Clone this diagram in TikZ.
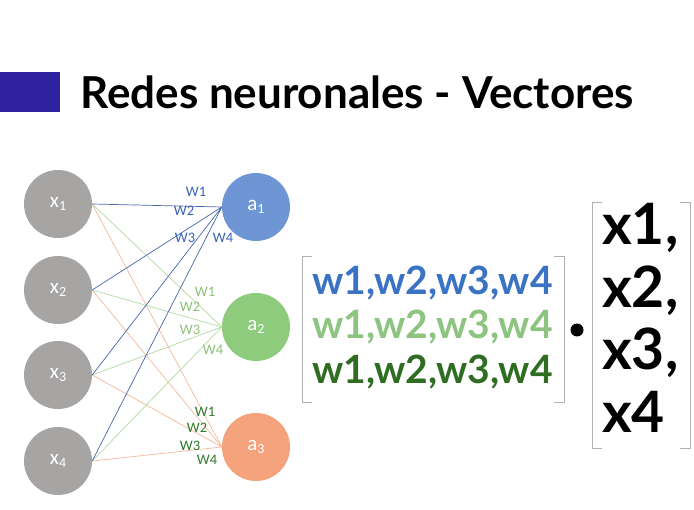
\documentclass[tikz,border=0pt]{standalone}
\usepackage{fontspec}
\setmainfont{Carlito}
\newfontfamily\latobold{Lato Bold}
\definecolor{titleblue}{HTML}{2E22A0}
\definecolor{ingray}{HTML}{A7A4A4}
\definecolor{nblue}{HTML}{6E96D5}
\definecolor{ngreen}{HTML}{8ECB7C}
\definecolor{norange}{HTML}{F4A37C}
\definecolor{eblue}{HTML}{4866AA}
\definecolor{egreen}{HTML}{B5D8A5}
\definecolor{eorange}{HTML}{F2BA9A}
\definecolor{wblue}{HTML}{3A63B3}
\definecolor{wlgreen}{HTML}{8DC27A}
\definecolor{wdgreen}{HTML}{2F7A2A}
\definecolor{mblue}{HTML}{3B73C4}
\definecolor{mlgreen}{HTML}{8CC480}
\definecolor{mdgreen}{HTML}{2F6E22}
\definecolor{brk}{HTML}{B0B0B0}
\newcommand{\sublabel}[2]{#1\raisebox{-0.35ex}{\fontsize{14}{14}\selectfont #2}}
\begin{document}
\begin{tikzpicture}[x=1pt,y=-1pt,
  neuron/.style={circle,minimum size=68pt,inner sep=0pt,text=white,font=\fontsize{21}{21}\selectfont},
  inneuron/.style={neuron,fill=ingray},
  edge/.style={line width=0.7pt},
  wlab/.style={font=\fontsize{14.5}{14.5}\selectfont,inner sep=0pt},
  vec/.style={font=\latobold\fontsize{39}{39}\selectfont,inner sep=0pt,anchor=base west},
  xvec/.style={font=\latobold\fontsize{57}{57}\selectfont,inner sep=0pt,anchor=base west},
  bracket/.style={draw=brk,line width=0.9pt}]
\useasboundingbox (0,0) rectangle (694,510);
\fill[white] (0,0) rectangle (694,510);

% title
\fill[titleblue] (0,72) rectangle (60,112);
\node[font=\latobold\fontsize{44}{44}\selectfont,anchor=base west,inner sep=0pt] (title) at (80,109) {Redes neuronales - Vectores};

% neurons
\node[inneuron] (x1) at (58,204) {\sublabel{x}{1}};
\node[inneuron] (x2) at (58,290) {\sublabel{x}{2}};
\node[inneuron] (x3) at (58,375) {\sublabel{x}{3}};
\node[inneuron] (x4) at (58,461) {\sublabel{x}{4}};
\node[neuron,fill=nblue] (a1) at (256,207) {\sublabel{a}{1}};
\node[neuron,fill=ngreen] (a2) at (256,327) {\sublabel{a}{2}};
\node[neuron,fill=norange] (a3) at (256,447) {\sublabel{a}{3}};

% connections: every input feeds every output neuron
\foreach \i in {1,...,4} {
  \draw[edge,eorange] (x\i.east) -- (a3.west);
  \draw[edge,egreen] (x\i.east) -- (a2.west);
}
\foreach \i in {1,...,4} {
  \draw[edge,eblue] (x\i.east) -- (a1.west);
}

% weight labels
\node[wlab,text=wblue] (wa1) at (196,192) {W1};
\node[wlab,text=wblue] (wa2) at (184,211) {W2};
\node[wlab,text=wblue] (wa3) at (185,238) {W3};
\node[wlab,text=wblue] (wa4) at (223,238) {W4};
\node[wlab,text=wlgreen] (wb1) at (205,292) {W1};
\node[wlab,text=wlgreen] (wb2) at (190,307) {W2};
\node[wlab,text=wlgreen] (wb3) at (190,330) {W3};
\node[wlab,text=wlgreen] (wb4) at (213,350) {W4};
\node[wlab,text=wdgreen] (wc1) at (205,412) {W1};
\node[wlab,text=wdgreen] (wc2) at (197,428) {W2};
\node[wlab,text=wdgreen] (wc3) at (190,446) {W3};
\node[wlab,text=wdgreen] (wc4) at (207,460) {W4};

% weight matrix
\draw[bracket] (312,256) -- (302,256) -- (302,402) -- (312,402);
\draw[bracket] (554,256) -- (564,256) -- (564,402) -- (554,402);
\node[vec,text=mblue] (r1) at (312,295) {w1,w2,w3,w4};
\node[vec,text=mlgreen] (r2) at (312,339) {w1,w2,w3,w4};
\node[vec,text=mdgreen] (r3) at (312,384) {w1,w2,w3,w4};

% product dot
\fill (577,330) circle (6.5);

% input vector
\draw[bracket] (602,202) -- (592,202) -- (592,448) -- (602,448);
\draw[bracket] (680,202) -- (690,202) -- (690,448) -- (680,448);
\node[xvec] (c1) at (602,245) {x1,};
\node[xvec] (c2) at (602,308) {x2,};
\node[xvec] (c3) at (602,370) {x3,};
\node[xvec] (c4) at (602,433) {x4};
\end{tikzpicture}
\end{document}
